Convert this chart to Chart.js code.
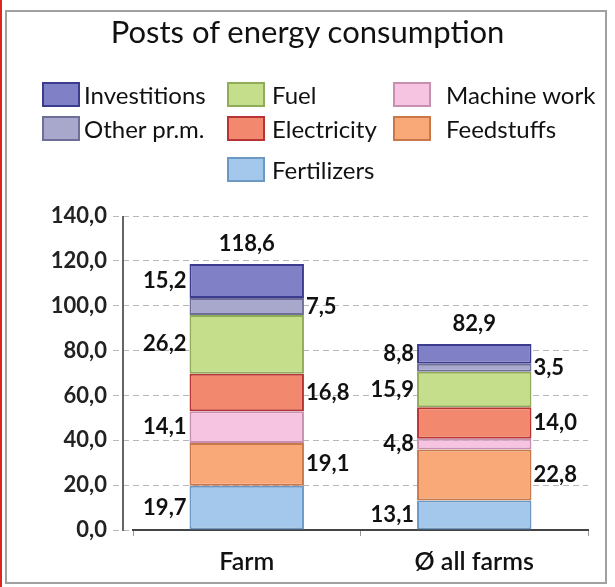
<!DOCTYPE html>
<html>
<head>
<meta charset="utf-8">
<script src="https://cdn.jsdelivr.net/npm/chart.js@4"></script>
<style>
  html, body { margin: 0; padding: 0; background: #fff; }
  #wrap { position: relative; width: 615px; height: 587px; overflow: hidden; font-family: Lato, sans-serif; }
  #redline { position: absolute; left: 0; top: 0; width: 2px; height: 587px; background: #e02424; }
  #frame { position: absolute; left: 5px; top: 10px; width: 602px; height: 574px; border: 2px solid #a0a0a0; box-sizing: border-box; }
  #title { position: absolute; left: 0; width: 615px; top: 12px; text-align: center; font-size: 31px; color: #111; }
  .lg-box { position: absolute; width: 38px; height: 25px; box-sizing: border-box; border: 2px solid; }
  .lg-text { position: absolute; font-size: 24px; line-height: 26px; color: #111; white-space: nowrap; }
  #chart { position: absolute; left: 0; top: 0; }
</style>
</head>
<body>
<div id="wrap">
  <div id="redline"></div>
  <div id="frame"></div>
  <canvas id="chart" width="615" height="587"></canvas>
  <div id="title">Posts of energy consumption</div>
  <div id="legend"></div>
</div>
<script>
// values, bottom segment first
const categories   = ['Farm', '\u00D8 all farms'];
const fertilizers  = [19.7, 13.1];
const feedstuffs   = [19.1, 22.8];
const machineWork  = [14.1, 4.8];
const electricity  = [16.8, 14.0];
const fuel         = [26.2, 15.9];
const otherPrm     = [7.5, 3.5];
const investitions = [15.2, 8.8];
const totals       = [118.6, 82.9];

const seriesNames  = ['Fertilizers', 'Feedstuffs', 'Machine work', 'Electricity', 'Fuel', 'Other pr.m.', 'Investitions'];
const seriesValues = [fertilizers, feedstuffs, machineWork, electricity, fuel, otherPrm, investitions];
const fillColors   = ['#a4c8ec', '#f9a878', '#f6c4e0', '#f2886e', '#c4de8c', '#a8a8cc', '#8080c6'];
const edgeColors   = ['#6c98c4', '#c8784a', '#c890b0', '#b83434', '#90ac58', '#6e6e98', '#3c3c8e'];

const fmt = v => v.toFixed(1).replace('.', ',');

// legend grid: [series index, column, row]
const legendSlots = [[6, 0, 0], [4, 1, 0], [2, 2, 0], [5, 0, 1], [3, 1, 1], [1, 2, 1], [0, 1, 2]];
const colBox  = [42, 227, 393];
const colText = [84, 272, 446];
const rowTop  = [82, 116, 157];

const legend = document.getElementById('legend');
legendSlots.forEach(([si, c, r]) => {
  legend.innerHTML += `
    <div class="lg-box" style="left:${colBox[c]}px;top:${rowTop[r]}px;background:${fillColors[si]};border-color:${edgeColors[si]}"></div>
    <div class="lg-text" style="left:${colText[c]}px;top:${rowTop[r]}px">${seriesNames[si]}</div>`;
});

const segmentLabels = {
  id: 'segmentLabels',
  afterDatasetsDraw(chart) {
    const ctx = chart.ctx;
    const y = chart.scales.y;
    const area = chart.chartArea;
    ctx.save();
    // the value axis sits a little left of the plot
    ctx.strokeStyle = '#666';
    ctx.lineWidth = 2;
    ctx.beginPath();
    ctx.moveTo(area.left - 10, y.getPixelForValue(140));
    ctx.lineTo(area.left - 10, area.bottom + 1);
    ctx.stroke();

    ctx.font = 'bold 22px Lato';
    ctx.fillStyle = '#111';
    ctx.textBaseline = 'middle';
    chart.data.datasets.forEach((ds, di) => {
      chart.getDatasetMeta(di).data.forEach((bar, i) => {
        const onLeft = di % 2 === 0;
        ctx.textAlign = onLeft ? 'right' : 'left';
        const x = onLeft ? bar.x - bar.width / 2 - 3 : bar.x + bar.width / 2 + 2;
        ctx.fillText(fmt(ds.data[i]), x, (bar.y + bar.base) / 2);
      });
    });
    ctx.textAlign = 'center';
    const topMeta = chart.getDatasetMeta(chart.data.datasets.length - 1);
    topMeta.data.forEach((bar, i) => ctx.fillText(fmt(totals[i]), bar.x, bar.y - 20));
    ctx.restore();
  }
};

new Chart(document.getElementById('chart'), {
  type: 'bar',
  data: {
    labels: categories,
    datasets: seriesValues.map((vals, i) => ({
      label: seriesNames[i],
      data: vals,
      backgroundColor: fillColors[i],
      borderColor: edgeColors[i],
      borderWidth: 2,
      borderSkipped: false,
      categoryPercentage: 1,
      barPercentage: 0.503,
    })),
  },
  options: {
    responsive: false,
    animation: false,
    layout: { padding: { top: 216, right: 27, bottom: 0, left: 0 } },
    plugins: { legend: { display: false }, title: { display: false }, tooltip: { enabled: false } },
    scales: {
      x: {
        stacked: true,
        border: { color: '#444', width: 2 },
        grid: { display: true, drawOnChartArea: false, offset: true, tickLength: 6, color: '#999' },
        ticks: { color: '#111', padding: 11, font: { family: 'Lato', size: 25, weight: '600' } },
        afterFit: s => { s.height = 57; },
      },
      y: {
        stacked: true,
        min: 0, max: 140,
        border: { display: false, dash: [6, 4] },
        grid: { color: '#b8b8b8', tickColor: '#b8b8b8', tickLength: 20, tickBorderDash: [6, 4] },
        ticks: { stepSize: 20, padding: 6, color: '#222', font: { family: 'Lato', size: 22, weight: 'bold' }, callback: v => fmt(v) },
        afterFit: s => { s.width = 133; },
      },
    },
  },
  plugins: [segmentLabels],
});
</script>
</body>
</html>
